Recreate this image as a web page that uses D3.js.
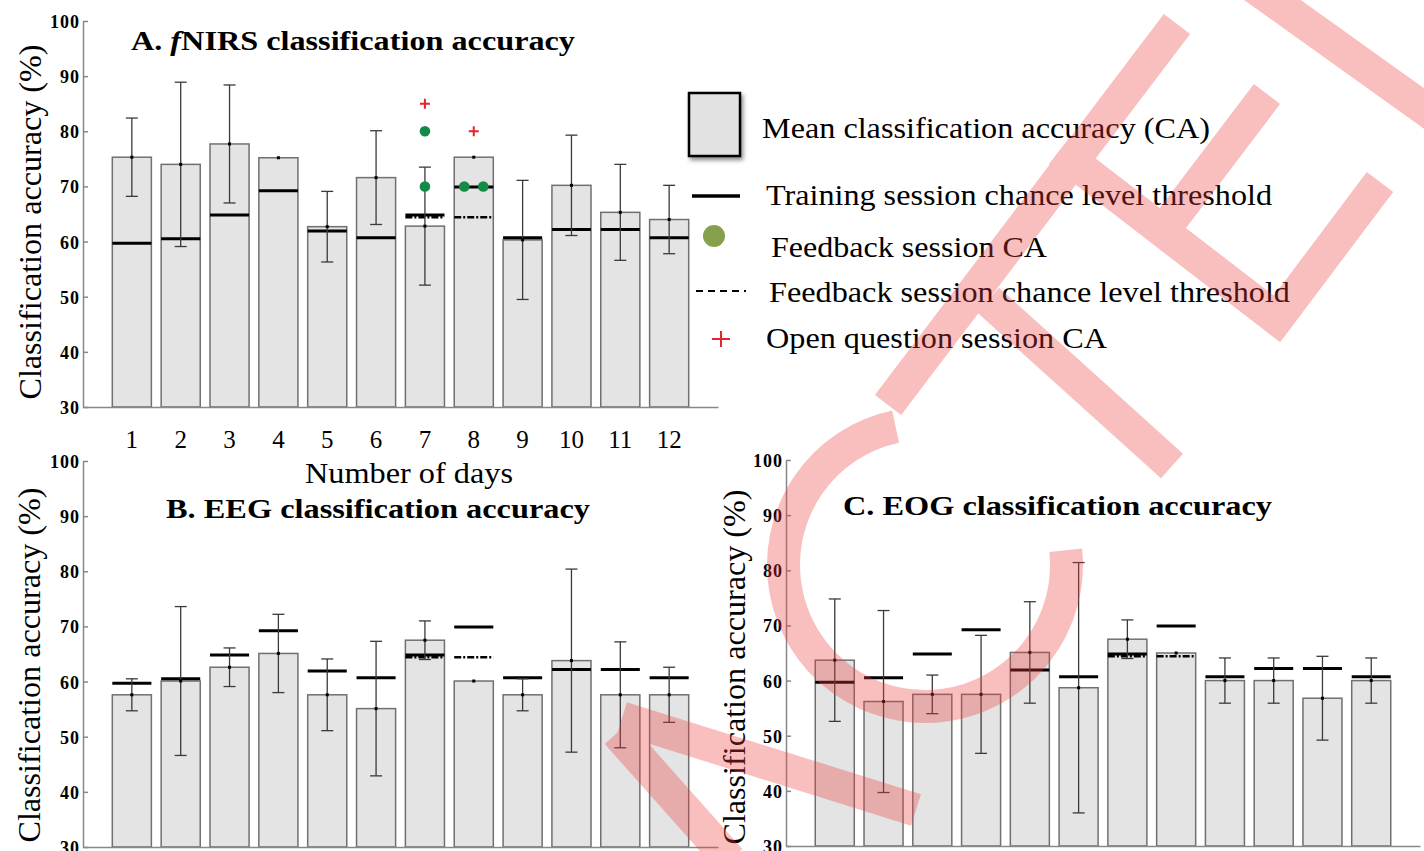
<!DOCTYPE html>
<html>
<head>
<meta charset="utf-8">
<script src="https://cdn.jsdelivr.net/npm/d3@7"></script>
<style>
  html, body { margin: 0; padding: 0; background: #fff; }
  svg { display: block; }
</style>
</head>
<body>
<svg id="chart" width="1424" height="851"></svg>
<script>
// ---- data ----
const days = [1, 2, 3, 4, 5, 6, 7, 8, 9, 10, 11, 12];
const yTicks = [30, 40, 50, 60, 70, 80, 90, 100];

// chance level thresholds (same sessions for every modality)
const trainThreshold = [59.7, 60.5, 64.8, 69.2, 61.9, 60.7, 64.8, 69.9, 60.7, 62.2, 62.2, 60.7];
const feedbackDays = [7, 8];
const feedbackThreshold = [64.6, 64.6];

// fNIRS only: feedback / open question session results
const feedbackCA = [[80, 70], [70, 70]];
const openDays = [7, 8];
const openCA = [85, 80];

const fnirsMean = [75.3, 74.0, 77.7, 75.2, 62.7, 71.6, 62.8, 75.3, 60.3, 70.2, 65.3, 64.0];
const fnirsSd   = [7.1, 14.9, 10.7, 0, 6.4, 8.5, 10.7, 0, 10.8, 9.1, 8.7, 6.2];

const eegMean = [57.6, 60.1, 62.6, 65.1, 57.6, 55.1, 67.5, 60.1, 57.6, 63.8, 57.6, 57.6];
const eegSd   = [2.9, 13.5, 3.5, 7.1, 6.5, 12.2, 3.5, 0, 2.9, 16.6, 9.6, 5.0];

const eogMean = [63.7, 56.2, 57.5, 57.5, 65.1, 58.7, 67.5, 65.0, 60.0, 60.0, 56.8, 60.0];
const eogSd   = [11.1, 16.5, 3.5, 10.7, 9.2, 22.7, 3.5, 0, 4.1, 4.1, 7.6, 4.1];

const legendItems = [
  "Mean classification accuracy (CA)",
  "Training session chance level threshold",
  "Feedback session CA",
  "Feedback session chance level threshold",
  "Open question session CA"
];

// pick a Times-like face that is really installed
function pickFont(list) {
  const ctx = document.createElement("canvas").getContext("2d");
  const sample = "Classification accuracy 0123456789";
  const measure = f => { ctx.font = `40px ${f}`; return ctx.measureText(sample).width; };
  const mono = measure("monospace"), sans = measure("sans-serif");
  for (const f of list) {
    if (measure(`"${f}", monospace`) !== mono || measure(`"${f}", sans-serif`) !== sans) return `"${f}", serif`;
  }
  return "serif";
}
const FONT = pickFont(["Liberation Serif", "Times New Roman", "Tinos", "Nimbus Roman", "Times", "FreeSerif", "DejaVu Serif"]);

// ---- setup ----
const svg = d3.select("#chart").style("font-family", FONT);
const defs = svg.append("defs");
defs.append("filter")
    .attr("id", "shadow")
    .attr("x", "-30%").attr("y", "-30%")
    .attr("width", "170%").attr("height", "170%")
  .append("feDropShadow")
    .attr("dx", 2).attr("dy", 3)
    .attr("stdDeviation", 2)
    .attr("flood-color", "#000")
    .attr("flood-opacity", 0.45);

const BAR_FILL = "#e4e4e4";
const BAR_STROKE = "#707070";
const AXIS_COLOR = "#888";
const DOT_GREEN = "#138a45";
const PLUS_RED = "#e8242b";

const panels = [
  { id: "A", mean: fnirsMean, sd: fnirsSd, xRange: [83, 718], yRange: [407, 21], showDays: true, markers: true },
  { id: "B", mean: eegMean, sd: eegSd, xRange: [83, 718], yRange: [847, 461] },
  { id: "C", mean: eogMean, sd: eogSd, xRange: [786, 1420], yRange: [846, 460] },
];

panels.forEach(p => drawPanel(p));

function drawPanel(p) {
  const $g = svg.append("g").attr("id", "panel-" + p.id);

  const x = d3.scaleBand()
    .domain(days)
    .range(p.xRange)
    .paddingInner(0.2)
    .paddingOuter(0.6);

  const y = d3.scaleLinear()
    .domain([30, 100])
    .range(p.yRange);

  const bw = x.bandwidth();
  const cx = d => x(d) + bw / 2;

  // bars
  $g.append("g")
    .selectAll("rect")
    .data(days)
    .join("rect")
      .attr("x", d => x(d))
      .attr("y", (d, i) => y(p.mean[i]))
      .attr("width", bw)
      .attr("height", (d, i) => y(30) - y(p.mean[i]))
      .attr("fill", BAR_FILL)
      .attr("stroke", BAR_STROKE)
      .attr("stroke-width", 1.5);

  // y axis
  const yAxis = d3.axisLeft(y)
    .tickValues(yTicks)
    .tickSizeInner(-5)
    .tickSizeOuter(0)
    .tickPadding(3);

  $g.append("g")
    .attr("transform", `translate(${p.xRange[0]},0)`)
    .call(yAxis)
    .call(g => g.select(".domain").attr("stroke", AXIS_COLOR).attr("stroke-width", 1.5))
    .call(g => g.selectAll(".tick line").attr("stroke", AXIS_COLOR).attr("stroke-width", 1.5))
    .call(g => g.selectAll(".tick text")
      .attr("fill", "#000")
      .attr("font-family", FONT)
      .attr("font-weight", "bold")
      .attr("font-size", 18)
      .attr("letter-spacing", 1)
      .attr("dy", "0.36em"));

  // x axis
  const xAxis = d3.axisBottom(x).tickSize(0).tickSizeOuter(0);
  $g.append("g")
    .attr("transform", `translate(0,${y(30)})`)
    .call(xAxis)
    .call(g => g.select(".domain").attr("stroke", AXIS_COLOR).attr("stroke-width", 1.5))
    .call(g => g.selectAll(".tick text")
      .attr("fill", "#000")
      .attr("font-family", FONT)
      .attr("font-size", 25)
      .attr("y", 41)
      .attr("dy", null)
      .attr("display", p.showDays ? null : "none"));

  // training chance level threshold
  $g.append("g")
    .selectAll("line")
    .data(days)
    .join("line")
      .attr("x1", d => x(d))
      .attr("x2", d => x(d) + bw)
      .attr("y1", (d, i) => y(trainThreshold[i]))
      .attr("y2", (d, i) => y(trainThreshold[i]))
      .attr("stroke", "#000")
      .attr("stroke-width", 3);

  // feedback chance level threshold
  $g.append("g")
    .selectAll("line")
    .data(feedbackDays)
    .join("line")
      .attr("x1", d => x(d))
      .attr("x2", d => x(d) + bw)
      .attr("y1", (d, i) => y(feedbackThreshold[i]) + 1)
      .attr("y2", (d, i) => y(feedbackThreshold[i]) + 1)
      .attr("stroke", "#000")
      .attr("stroke-width", 2.5)
      .attr("stroke-dasharray", "7 2 2 2");

  // error bars
  const err = days.map((d, i) => ({ d, m: p.mean[i], s: p.sd[i] })).filter(e => e.s > 0);
  const $err = $g.append("g")
    .attr("stroke", "#3a3a3a")
    .attr("stroke-width", 1.3);
  $err.selectAll(".stem")
    .data(err)
    .join("line")
      .attr("class", "stem")
      .attr("x1", e => cx(e.d)).attr("x2", e => cx(e.d))
      .attr("y1", e => y(e.m + e.s)).attr("y2", e => y(e.m - e.s));
  $err.selectAll(".cap")
    .data(err.flatMap(e => [e.m + e.s, e.m - e.s].map(v => ({ d: e.d, v }))))
    .join("line")
      .attr("class", "cap")
      .attr("x1", c => cx(c.d) - 6).attr("x2", c => cx(c.d) + 6)
      .attr("y1", c => y(c.v)).attr("y2", c => y(c.v));

  // mean dots
  $g.append("g")
    .selectAll("rect")
    .data(days)
    .join("rect")
      .attr("x", d => cx(d) - 1.5)
      .attr("y", (d, i) => y(p.mean[i]) - 1.5)
      .attr("width", 3).attr("height", 3)
      .attr("fill", "#000");

  if (p.markers) {
    // feedback session CA dots, dodged sideways when values coincide
    const pts = feedbackDays.flatMap((d, k) => {
      const vals = feedbackCA[k];
      return vals.map((v, j) => {
        const same = vals.filter(w => w === v).length;
        const idx = vals.slice(0, j).filter(w => w === v).length;
        const off = same > 1 ? (idx - (same - 1) / 2) * 19 : 0;
        return { d, v, off };
      });
    });
    $g.append("g")
      .selectAll("circle")
      .data(pts)
      .join("circle")
        .attr("cx", q => cx(q.d) + q.off)
        .attr("cy", q => y(q.v))
        .attr("r", 5.3)
        .attr("fill", DOT_GREEN);

    // open question session CA
    $g.append("g")
      .selectAll("path")
      .data(openDays.map((d, i) => ({ d, v: openCA[i] })))
      .join("path")
        .attr("d", q => `M${cx(q.d) - 5},${y(q.v)}h10M${cx(q.d)},${y(q.v) - 5}v10`)
        .attr("stroke", PLUS_RED)
        .attr("stroke-width", 2);
  }
}

// ---- titles and axis labels ----
const $text = svg.append("g").attr("fill", "#000");

const tA = $text.append("text")
  .attr("x", 131).attr("y", 50)
  .attr("font-size", 27).attr("font-weight", "bold")
  .attr("textLength", 444).attr("lengthAdjust", "spacingAndGlyphs");
tA.append("tspan").text("A. ");
tA.append("tspan").attr("font-style", "italic").text("f");
tA.append("tspan").text("NIRS classification accuracy");

$text.append("text")
  .attr("x", 166).attr("y", 518)
  .attr("font-size", 28).attr("font-weight", "bold")
  .attr("textLength", 424).attr("lengthAdjust", "spacingAndGlyphs")
  .text("B. EEG classification accuracy");

$text.append("text")
  .attr("x", 843).attr("y", 515)
  .attr("font-size", 28).attr("font-weight", "bold")
  .attr("textLength", 429).attr("lengthAdjust", "spacingAndGlyphs")
  .text("C. EOG classification accuracy");

$text.append("text")
  .attr("x", 305).attr("y", 483)
  .attr("font-size", 30)
  .attr("textLength", 208).attr("lengthAdjust", "spacingAndGlyphs")
  .text("Number of days");

[[41, 222], [40, 665], [745, 667]].forEach(([tx, ty]) => {
  $text.append("text")
    .attr("transform", `translate(${tx},${ty}) rotate(-90)`)
    .attr("text-anchor", "middle")
    .attr("font-size", 32)
    .attr("textLength", 355).attr("lengthAdjust", "spacingAndGlyphs")
    .text("Classification accuracy (%)");
});

// ---- legend ----
const $leg = svg.append("g").attr("id", "legend");
$leg.append("rect")
  .attr("x", 689).attr("y", 93)
  .attr("width", 51).attr("height", 63)
  .attr("fill", "#e2e2e2")
  .attr("stroke", "#000")
  .attr("stroke-width", 2.5)
  .attr("filter", "url(#shadow)");
$leg.append("line")
  .attr("x1", 692).attr("x2", 740).attr("y1", 196).attr("y2", 196)
  .attr("stroke", "#000").attr("stroke-width", 3.5);
$leg.append("circle")
  .attr("cx", 714).attr("cy", 236).attr("r", 11)
  .attr("fill", "#86a04b");
$leg.append("line")
  .attr("x1", 696).attr("x2", 746).attr("y1", 291).attr("y2", 291)
  .attr("stroke", "#000").attr("stroke-width", 2)
  .attr("stroke-dasharray", "7 5");
$leg.append("path")
  .attr("d", "M712,339h18M721,331v16")
  .attr("stroke", PLUS_RED).attr("stroke-width", 2);

const legendPos = [[762, 138, 448], [766, 205, 506], [771, 257, 276], [769, 302, 521], [766, 348, 341]];
$leg.selectAll("text")
  .data(legendItems)
  .join("text")
    .attr("x", (d, i) => legendPos[i][0])
    .attr("y", (d, i) => legendPos[i][1])
    .attr("textLength", (d, i) => legendPos[i][2])
    .attr("lengthAdjust", "spacingAndGlyphs")
    .attr("font-size", 30)
    .text(d => d);

// ---- watermark overlay ----
const cC = [925, 565], rC = 141.5;
const ang = a => [cC[0] + rC * Math.cos(a * Math.PI / 180), cC[1] + rC * Math.sin(a * Math.PI / 180)];
const [s0, s1] = [ang(-102), ang(-6)];
const watermark = [
  "M1250,-16L1450,127",
  "M1177,24L888,405",
  "M988,300L1172,466",
  "M1059,151L1277,319L1380,182",
  "M1267,94L1163,231",
  `M${s0[0]},${s0[1]}A${rC},${rC} 0 1 0 ${s1[0]},${s1[1]}`,
  "M617,733L730,860",
  "M622,718L916,810"
];
svg.append("g")
  .attr("opacity", 0.33)
  .selectAll("path")
  .data(watermark)
  .join("path")
    .attr("d", d => d)
    .attr("fill", "none")
    .attr("stroke", "rgb(237,61,61)")
    .attr("stroke-width", 33)
    .attr("stroke-linejoin", "miter");
</script>
</body>
</html>
